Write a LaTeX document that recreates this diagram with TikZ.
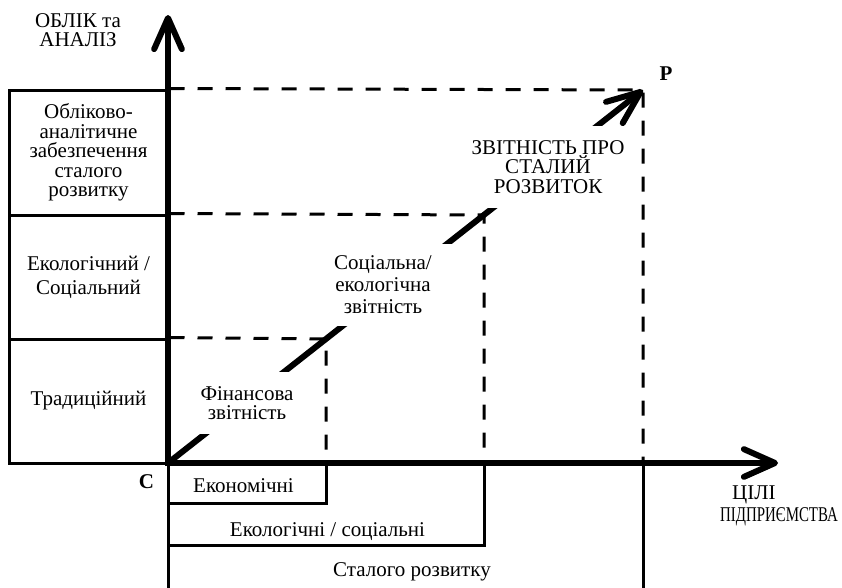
\documentclass[tikz,border=0pt]{standalone}
\usepackage{fontspec}
\setmainfont{Liberation Serif}
\newfontfamily\narrowserif[FakeStretch=0.71]{Liberation Serif}
\usetikzlibrary{arrows.meta}
% let tight line spacing take effect inside multi-line labels
\setlength{\lineskiplimit}{-100pt}
\begin{document}
\begin{tikzpicture}[x=1pt,y=-1pt,
  font=\fontsize{21}{24}\selectfont,
  thinline/.style={line width=3pt},
  thickline/.style={line width=6pt},
  dashline/.style={line width=3pt, dash pattern=on 15pt off 13pt},
  axisarrow/.style={thickline, -{Straight Barb[angle=48:34pt, round, line width=6pt]}},
  growth/.style={thickline, -{Straight Barb[angle=44:36pt, round, line width=6pt]}},
  levelbox/.style={draw, line width=3pt, minimum width=159pt, align=center, inner sep=0pt},
  stagelabel/.style={fill=white, align=center, inner sep=0pt},
  caption/.style={align=center, inner sep=0pt},
  point/.style={font=\fontsize{21}{24}\selectfont\bfseries, inner sep=0pt}]

\useasboundingbox (0,0) rectangle (842,587);

% key points of the chart
\coordinate (C) at (168,463);
\coordinate (P) at (643,90);
\coordinate (Q1) at (326,339);
\coordinate (Q2) at (484,215);
\coordinate (ytip) at (168,15);
\coordinate (xtip) at (778,463);

% levels of accounting and analysis
\node[levelbox, minimum height=125pt, font=\fontsize{21}{19.5}\selectfont] (lvl3) at (88.5,152.5)
  {Обліково-\\аналітичне\\забезпечення\\сталого\\розвитку};
\node[levelbox, minimum height=124pt] (lvl2) at (88.5,277) {Екологічний /\\Соціальний};
\node[levelbox, minimum height=124pt] (lvl1) at (88.5,401) {Традиційний};

% projection lines to the stage corners
\draw[dashline] (lvl1.north east) -- (Q1) -- (Q1 |- C);
\draw[dashline] (lvl2.north east) -- (Q2) -- (Q2 |- C);
\draw[dashline] (lvl3.north east) -- (P) -- (P |- C);

% nested goal bands under the horizontal axis
\draw[thinline] (C) rectangle (326,503);
\draw[thinline] (C) rectangle (484,545);
\draw[thinline] (C) rectangle (643,589);

% axes
\draw[axisarrow] ([yshift=3pt]C) -- (ytip);
\draw[axisarrow] ([xshift=-3pt]C) -- (xtip);

% development path
\draw[growth] (C) -- (P);

% stage labels set over the path
\node[stagelabel, minimum width=106pt, minimum height=62pt, font=\fontsize{21}{19.5}\selectfont] (fin) at (247,403)
  {Фінансова\\звітність};
\node[stagelabel, minimum width=144pt, minimum height=82pt, font=\fontsize{21}{22}\selectfont] (soc) at (383,285)
  {Соціальна/\\екологічна\\звітність};
\node[stagelabel, minimum width=164pt, minimum height=82pt, font=\fontsize{21}{19.5}\selectfont] (sus) at (548,167)
  {ЗВІТНІСТЬ ПРО\\СТАЛИЙ\\РОЗВИТОК};

% goal band captions
\node[caption] (econ) at (243.5,485.5) {Економічні};
\node[caption] (ecosoc) at (327.5,531.5) {Екологічні / соціальні};
\node[caption] (sust) at (412,572) {Сталого розвитку};

% axis titles
\node[caption, font=\fontsize{21}{19.5}\selectfont] (yname) at (78,30) {ОБЛІК та\\АНАЛІЗ};
\node[caption, anchor=west, align=left, font=\fontsize{21}{21.5}\selectfont] (xname) at (720,506)
  {\hspace*{12pt}ЦІЛІ\\{\narrowserif ПІДПРИЄМСТВА}};

% end points
\node[point] (cname) at (146.5,481.5) {C};
\node[point] (pname) at (666,74) {P};
\end{tikzpicture}
\end{document}
